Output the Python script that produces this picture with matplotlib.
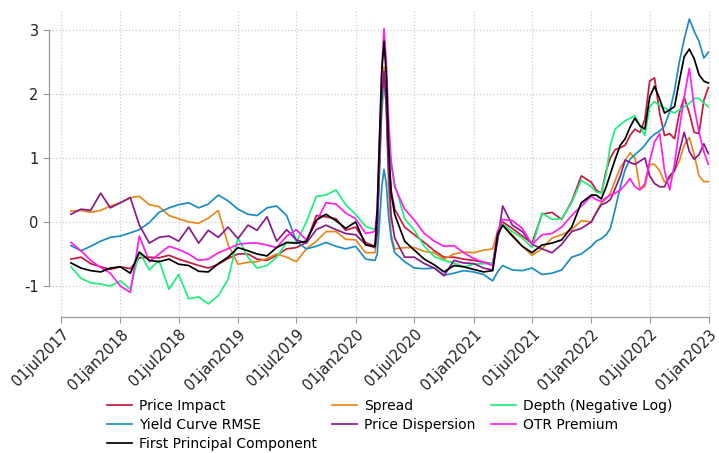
import matplotlib
matplotlib.use("Agg")
import matplotlib.pyplot as plt
import matplotlib.dates as mdates
import pandas as pd

# observation dates: monthly, weekly through the March 2020 spike, semi-monthly in 2022
dates = (list(pd.date_range("2017-08-01", "2020-03-01", freq="MS"))
         + list(pd.to_datetime(["2020-03-08", "2020-03-15", "2020-03-22", "2020-03-29",
                                "2020-04-05", "2020-04-12", "2020-04-20"]))
         + list(pd.date_range("2020-05-01", "2021-03-01", freq="MS"))
         + [pd.Timestamp("2021-03-16")]
         + list(pd.date_range("2021-04-01", "2021-12-01", freq="MS"))
         + [pd.Timestamp(2022, m, d) for m in range(1, 13) for d in (1, 16)]
         + [pd.Timestamp("2022-12-30")])

price_impact = [
    -0.58, -0.55, -0.65, -0.70, -0.74, -0.70, -0.73, -0.56, -0.55, -0.56, -0.52, -0.58,
    -0.63, -0.68, -0.72, -0.66, -0.57, -0.50, -0.50, -0.58, -0.60, -0.52, -0.42, -0.40,
    -0.32, 0.10, 0.08, 0.05, -0.13, -0.08, -0.32, -0.38,
    -0.05, 1.00, 1.90, 2.30, 1.90, 1.00, 0.50,
    0.20, -0.08, -0.20, -0.32, -0.45, -0.55, -0.55, -0.58, -0.60, -0.63, -0.65,
    -0.25,
    0.00, -0.10, -0.22, -0.33, 0.12, 0.15, 0.04, 0.32, 0.72,
    0.62, 0.50, 0.45, 0.80, 1.00, 1.13, 1.16, 1.20, 1.35, 1.45, 1.40, 1.60,
    2.20, 2.25, 1.70, 1.35, 1.38, 1.30, 1.70, 1.95, 1.70, 1.40, 1.38, 1.90, 2.10]

spread = [
    0.17, 0.18, 0.15, 0.18, 0.25, 0.30, 0.38, 0.40, 0.27, 0.24, 0.10, 0.05,
    0.00, -0.02, 0.06, 0.18, -0.35, -0.66, -0.63, -0.62, -0.57, -0.50, -0.55, -0.62,
    -0.42, -0.30, -0.15, -0.15, -0.27, -0.28, -0.48, -0.48,
    -0.20, 1.00, 2.00, 2.42, 1.80, 0.60, -0.20,
    -0.42, -0.40, -0.40, -0.46, -0.48, -0.58, -0.50, -0.47, -0.48, -0.44, -0.42,
    -0.15,
    -0.05, -0.20, -0.38, -0.52, -0.42, -0.25, -0.20, -0.12, 0.02,
    0.00, 0.15, 0.30, 0.36, 0.45, 0.65, 0.85, 0.96, 1.08, 1.00, 0.52, 0.55,
    0.90, 0.90, 0.80, 0.62, 0.68, 0.80, 0.95, 1.20, 1.32, 1.05, 0.72, 0.63, 0.63]

depth = [
    -0.70, -0.88, -0.95, -0.97, -1.00, -0.92, -1.05, -0.47, -0.75, -0.60, -1.05, -0.82,
    -1.20, -1.17, -1.28, -1.15, -0.90, -0.25, -0.55, -0.72, -0.68, -0.55, -0.32, -0.32,
    0.00, 0.40, 0.42, 0.50, 0.27, 0.12, -0.07, -0.12,
    0.00, 0.80, 1.70, 2.10, 1.90, 1.30, 0.90,
    0.60, 0.05, -0.13, -0.38, -0.54, -0.60, -0.64, -0.70, -0.66, -0.65, -0.65,
    -0.25,
    -0.03, -0.15, -0.25, -0.40, 0.14, 0.04, 0.05, 0.30, 0.65,
    0.55, 0.47, 0.45, 0.75, 1.20, 1.45, 1.52, 1.58, 1.62, 1.66, 1.50, 1.35,
    1.80, 1.88, 1.82, 1.78, 1.74, 1.70, 1.75, 1.80, 1.85, 1.93, 1.93, 1.86, 1.80]

yield_rmse = [
    -0.37, -0.45, -0.38, -0.30, -0.24, -0.22, -0.17, -0.12, -0.01, 0.15, 0.22, 0.27,
    0.30, 0.22, 0.28, 0.42, 0.33, 0.20, 0.12, 0.10, 0.22, 0.25, 0.10, -0.30,
    -0.42, -0.38, -0.32, -0.38, -0.42, -0.38, -0.58, -0.60,
    -0.50, 0.00, 0.55, 0.82, 0.60, 0.10, -0.25,
    -0.48, -0.62, -0.72, -0.73, -0.72, -0.83, -0.80, -0.76, -0.78, -0.82, -0.92,
    -0.78,
    -0.68, -0.75, -0.76, -0.72, -0.82, -0.80, -0.75, -0.55, -0.50,
    -0.38, -0.30, -0.26, -0.20, -0.10, 0.20, 0.55, 0.82, 0.98, 1.05, 1.12, 1.20,
    1.30, 1.37, 1.42, 1.50, 1.72, 2.05, 2.50, 2.85, 3.17, 2.98, 2.82, 2.56, 2.65]

price_dispersion = [
    0.12, 0.20, 0.18, 0.45, 0.22, 0.30, 0.38, -0.05, -0.33, -0.24, -0.22, -0.30,
    -0.08, -0.33, -0.13, -0.24, -0.08, -0.26, -0.05, -0.13, 0.08, -0.30, -0.12, -0.28,
    -0.33, -0.12, -0.05, -0.12, -0.18, -0.20, -0.35, -0.40,
    -0.15, 0.90, 1.90, 2.35, 1.80, 0.80, 0.10,
    -0.25, -0.55, -0.55, -0.65, -0.72, -0.84, -0.60, -0.64, -0.65, -0.72, -0.75,
    -0.30,
    0.25, -0.05, -0.15, -0.35, -0.42, -0.48, -0.35, -0.15, -0.10,
    0.00, 0.14, 0.27, 0.30, 0.35, 0.52, 0.72, 0.97, 0.93, 0.90, 0.95, 1.00,
    0.72, 0.60, 0.55, 0.55, 0.72, 0.80, 1.10, 1.40, 1.10, 0.98, 1.05, 1.22, 1.07]

otr_premium = [
    -0.32, -0.45, -0.60, -0.71, -0.80, -1.00, -1.10, -0.22, -0.62, -0.50, -0.38, -0.43,
    -0.50, -0.60, -0.58, -0.48, -0.42, -0.35, -0.33, -0.33, -0.36, -0.40, -0.22, -0.12,
    -0.28, 0.00, 0.30, 0.28, 0.14, 0.05, -0.18, -0.15,
    0.20, 1.30, 2.40, 3.02, 2.50, 1.60, 0.95,
    0.55, 0.20, 0.03, -0.18, -0.30, -0.38, -0.37, -0.48, -0.57, -0.63, -0.68,
    -0.15,
    0.04, 0.02, -0.10, -0.35, -0.20, -0.18, -0.08, 0.10, 0.25,
    0.40, 0.35, 0.32, 0.38, 0.42, 0.45, 0.50, 0.58, 0.68, 0.55, 0.50, 0.60,
    0.95, 1.25, 1.38, 0.80, 0.50, 0.90, 1.45, 1.95, 2.40, 1.80, 1.40, 1.10, 0.90]

first_pc = [
    -0.64, -0.72, -0.76, -0.78, -0.72, -0.70, -0.80, -0.47, -0.60, -0.62, -0.58, -0.66,
    -0.68, -0.77, -0.78, -0.65, -0.55, -0.40, -0.45, -0.50, -0.53, -0.40, -0.32, -0.33,
    -0.30, 0.03, 0.12, 0.02, -0.10, 0.00, -0.36, -0.38,
    0.20, 1.30, 2.35, 2.82, 2.30, 1.20, 0.45,
    0.12, -0.30, -0.44, -0.58, -0.67, -0.78, -0.68, -0.70, -0.74, -0.78, -0.76,
    -0.20,
    -0.05, -0.22, -0.38, -0.48, -0.36, -0.33, -0.28, -0.08, 0.30,
    0.42, 0.42, 0.36, 0.55, 0.75, 0.98, 1.20, 1.30, 1.48, 1.62, 1.50, 1.45,
    1.95, 2.12, 1.92, 1.70, 1.75, 1.80, 2.20, 2.58, 2.70, 2.55, 2.30, 2.20, 2.17]

series = [
    ("Price Impact", price_impact, "#c8193f"),
    ("Spread", spread, "#e8881c"),
    ("Depth (Negative Log)", depth, "#1ff07c"),
    ("Yield Curve RMSE", yield_rmse, "#1b8dc4"),
    ("Price Dispersion", price_dispersion, "#8a1a8a"),
    ("OTR Premium", otr_premium, "#ff1ff0"),
    ("First Principal Component", first_pc, "#000000"),
]

tick_dates = pd.date_range("2017-07-01", "2023-01-01", freq="6MS")
tick_labels = [d.strftime("%d%b%Y").lower() for d in tick_dates]

fig = plt.figure(figsize=(7.19, 4.53), dpi=100)
ax = fig.add_axes([49 / 719, 1 - 317 / 453, (712 - 49) / 719, (317 - 10) / 453])

handles = {}
for name, vals, col in series:
    assert len(vals) == len(dates), name
    (ln,) = ax.plot(dates, vals, color=col, linewidth=1.25, label=name)
    handles[name] = ln

# axis range: ticks run from 01jul2017 (px 61) to 01jan2023 (px 709)
d0 = mdates.date2num(tick_dates[0])
d1 = mdates.date2num(tick_dates[-1])
per_px = (d1 - d0) / 648.0
ax.set_xlim(d0 - 12 * per_px, d1 + 3 * per_px)
ax.set_ylim(-1.484, 3.31)

ax.set_xticks(tick_dates)
ax.set_xticklabels(tick_labels, rotation=45, ha="right", rotation_mode="anchor",
                   fontsize=10.5, color="#222222")
ax.set_yticks([-1, 0, 1, 2, 3])
ax.set_yticklabels(["-1", "0", "1", "2", "3"], fontsize=10.5, color="#222222")
ax.tick_params(axis="both", colors="#999999", labelcolor="#222222", length=4, width=0.8)
ax.tick_params(axis="x", pad=3)

for side in ("top", "right"):
    ax.spines[side].set_visible(False)
ax.spines["left"].set_bounds(-1, 3)
ax.spines["bottom"].set_bounds(d0, d1)
for side in ("left", "bottom"):
    ax.spines[side].set_color("#999999")
    ax.spines[side].set_linewidth(0.9)

ax.grid(True, linestyle=":", color="#cccccc", linewidth=0.9)
ax.set_axisbelow(True)

order = ["Price Impact", "Yield Curve RMSE", "First Principal Component",
         "Spread", "Price Dispersion",
         "Depth (Negative Log)", "OTR Premium"]
fig.legend([handles[n] for n in order], order, loc="center",
           bbox_to_anchor=(0.542, 1 - 425 / 453), ncol=3, frameon=False,
           fontsize=10, handlelength=1.8, handletextpad=0.5,
           columnspacing=1.1, labelspacing=0.35)

fig.savefig("out.png", dpi=100)
